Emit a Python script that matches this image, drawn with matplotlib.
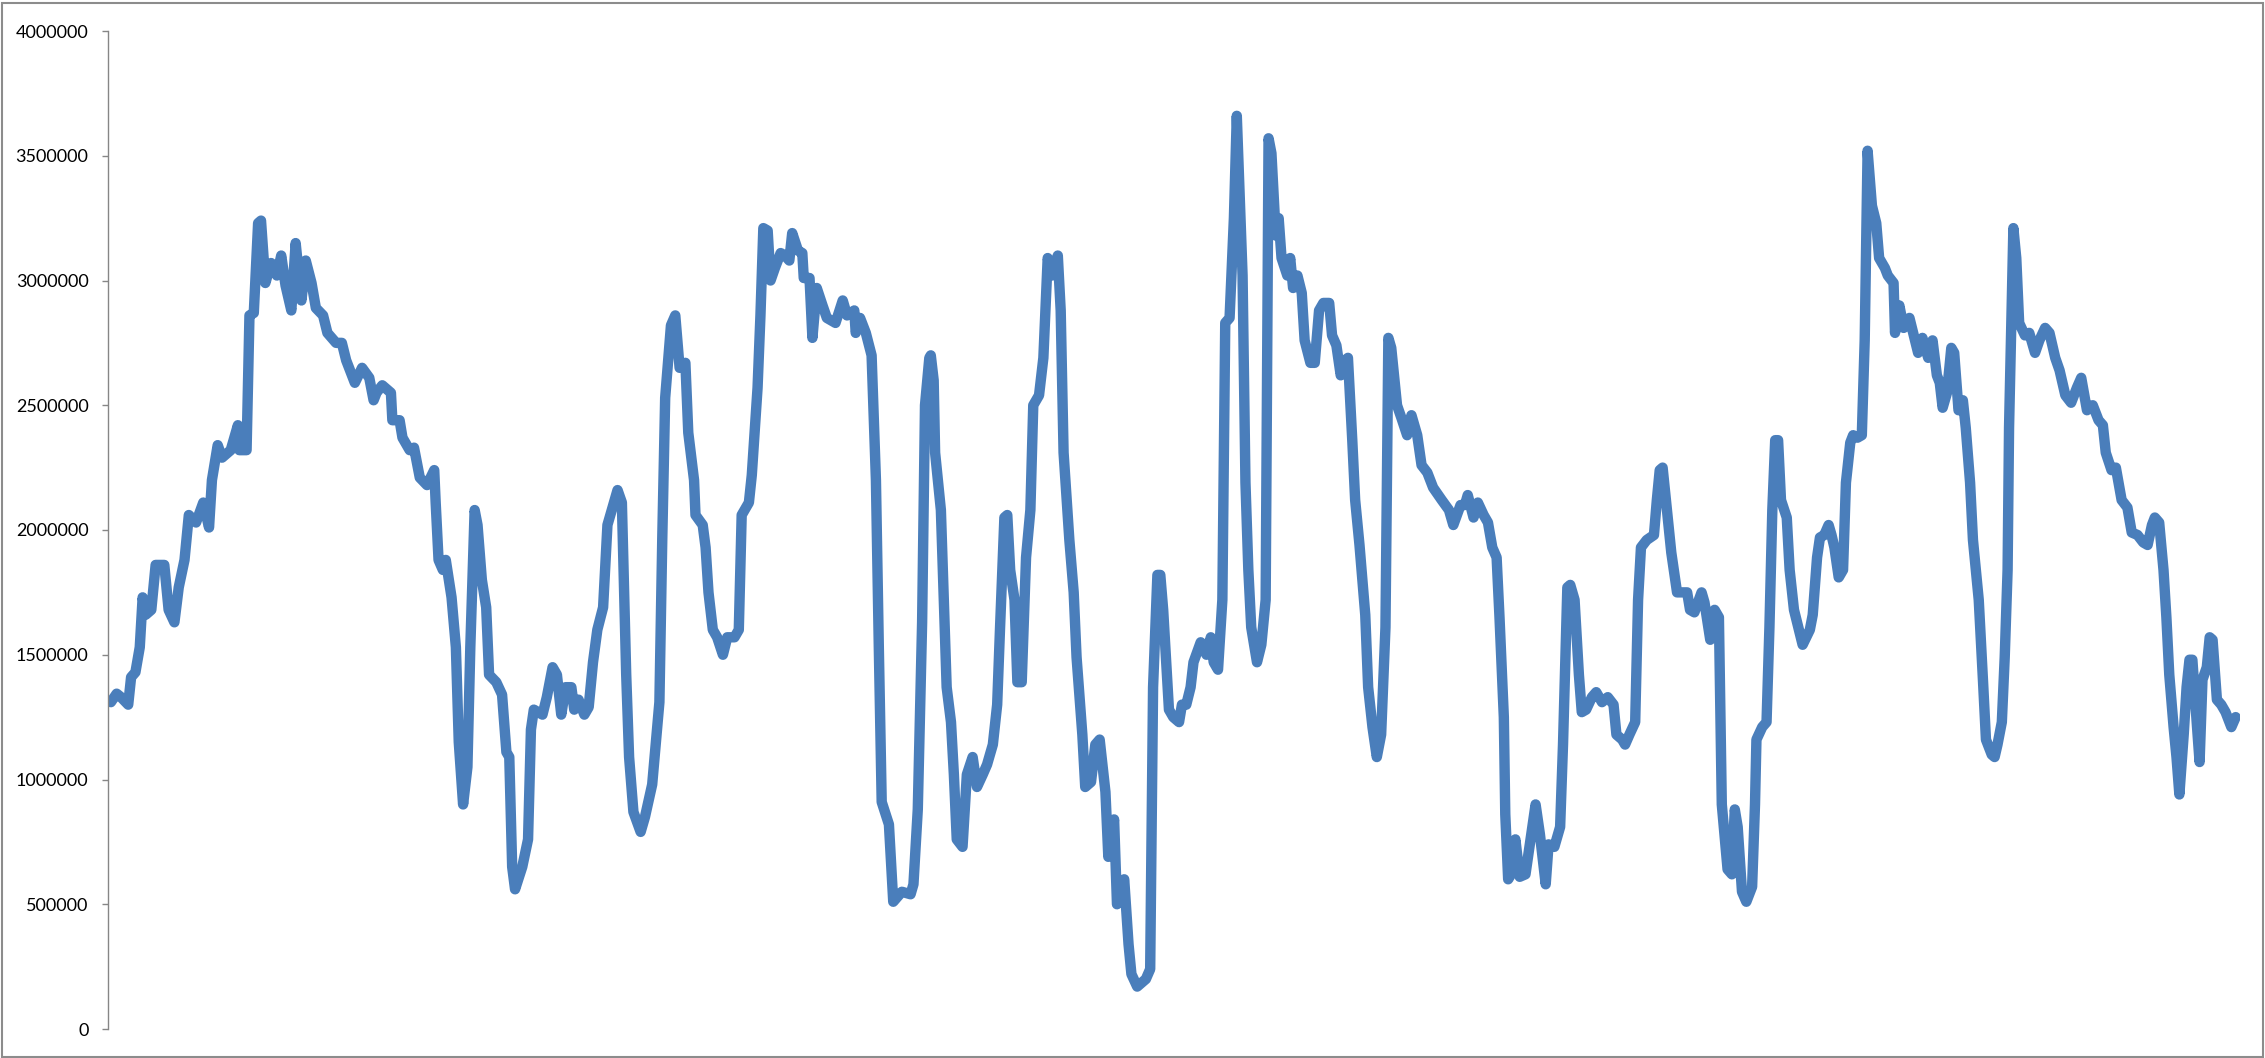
"""
Single long series (Excel-style line chart), values read off the reference picture.
"""
import matplotlib
matplotlib.use("Agg")
import matplotlib.pyplot as plt
from matplotlib.patches import Rectangle
from matplotlib.ticker import FuncFormatter, MultipleLocator
import numpy as np

# sample index along the (unlabelled) x axis
sample = [
    1, 5, 8, 13, 15, 18, 21, 23, 25, 29, 32, 38, 41, 45, 48, 52, 55, 60, 65, 69,
    71, 75, 78, 84, 89, 90, 95, 97, 100, 103, 105, 108, 112, 116, 119, 122, 126, 129, 133, 136,
    140, 143, 148, 151, 157, 161, 164, 170, 175, 180, 183,
    185, 189, 195, 196, 201, 203, 208, 211, 215, 220, 225, 226, 228, 231, 233, 237, 240, 242, 245, 248,
    250, 253, 255, 258, 261, 263, 268, 272, 275, 277, 279, 281, 286, 290, 292, 294, 300, 303, 307, 310,
    313, 316, 320, 322, 325, 329, 332, 335, 338, 342, 345, 348, 352, 355, 358, 360, 363, 368, 371,
    376, 381, 383, 385, 389, 392, 395, 399, 401, 405, 406, 411, 413, 415, 418, 421, 425, 428, 433, 436,
    438, 443, 445, 449, 451, 453, 456, 458, 461, 465, 468, 471, 473, 477, 480, 481, 485, 487, 490, 494,
    497, 503, 508, 511, 516, 517, 520, 524, 528, 531, 533, 535, 540, 543, 549, 555,
    557, 560, 563, 565, 568, 569, 571, 572, 576, 578, 580, 583, 585, 587, 591, 594, 598, 601, 605, 608,
    612, 615, 617, 620, 622, 624, 627, 629, 632, 635, 638, 640, 644, 647, 650, 653, 657, 659, 661, 665,
    668, 670, 674, 676, 680, 683, 686, 690, 692, 696, 698, 703, 706, 708, 712, 718, 721, 723, 726, 728,
    730, 734, 737, 741,
    743, 746, 749, 751, 756, 760, 763, 765, 768, 771, 773, 776, 779, 781, 785, 787, 789, 791, 795, 798,
    801, 803, 805, 808, 810, 812, 816, 818, 820, 823, 826, 828, 832, 835, 838, 841, 845, 847, 850, 853,
    856, 858, 861, 863, 866, 870, 872, 875, 878, 881, 884, 885, 886, 888, 892, 895, 899, 902, 906, 909,
    913, 917, 923, 928, 931,
    936, 939, 941, 945, 948, 952, 955, 958, 961, 963, 966, 967, 969, 971, 974, 977, 981, 984, 988, 991,
    995, 997, 1001, 1005, 1007, 1010, 1012, 1015, 1018, 1020, 1023, 1027, 1030, 1034, 1038, 1042, 1044, 1048, 1050, 1053,
    1057, 1059, 1061, 1065, 1070, 1072, 1074, 1076, 1079, 1082, 1086, 1089, 1093, 1095, 1098, 1103, 1105, 1109, 1112, 1115,
    1117,
    1121, 1124, 1126, 1128, 1131, 1134, 1138, 1140, 1141, 1145, 1148, 1150, 1152, 1154, 1156, 1158, 1162, 1164, 1167, 1170,
    1173, 1178, 1180, 1183, 1185, 1188, 1191, 1193, 1195, 1198, 1201, 1203, 1206, 1208, 1211, 1214, 1216, 1217, 1218, 1221,
    1224, 1226, 1230, 1232, 1236, 1237, 1240, 1243, 1247, 1250, 1253, 1256, 1260, 1263, 1266, 1268, 1270, 1273, 1276, 1278,
    1281, 1284, 1286, 1289, 1291, 1295, 1298, 1300, 1304,
    1306, 1308, 1311, 1313, 1315, 1316, 1319, 1321, 1323, 1327, 1330, 1334, 1337, 1341, 1344, 1348, 1351, 1355, 1359, 1363,
    1366, 1370, 1374, 1378, 1381, 1383, 1387, 1390, 1394, 1398, 1401, 1405, 1409, 1412, 1415, 1417, 1420, 1423, 1425, 1427,
    1430, 1432, 1434, 1437, 1439, 1441, 1443, 1446, 1448, 1450, 1453, 1455, 1457, 1460, 1463, 1466, 1470, 1473,
]

# series values, in thousands
value_k = [
    1310, 1344, 1330, 1300, 1410, 1430, 1530, 1730, 1660, 1680, 1860, 1860, 1680, 1630, 1770, 1880, 2060, 2030, 2110, 2010,
    2200, 2340, 2290, 2320, 2420, 2320, 2320, 2860, 2870, 3230, 3240, 2990, 3070, 3020, 3100, 2980, 2880, 3150, 2920, 3080,
    2990, 2890, 2860, 2790, 2750, 2750, 2680, 2590, 2650, 2610, 2520,
    2550, 2580, 2550, 2440, 2440, 2370, 2320, 2330, 2210, 2180, 2240, 2110, 1880, 1840, 1880, 1730, 1530, 1150, 900, 1050,
    1530, 2080, 2020, 1800, 1690, 1420, 1390, 1340, 1110, 1090, 650, 560, 650, 760, 1200, 1280, 1260, 1330, 1450, 1420,
    1260, 1370, 1370, 1280, 1320, 1260, 1290, 1470, 1600, 1690, 2020, 2080, 2160, 2110, 1420, 1090, 870, 790, 850,
    980, 1310, 1970, 2530, 2820, 2860, 2650, 2670, 2390, 2200, 2060, 2020, 1930, 1750, 1600, 1570, 1500, 1570, 1570, 1600,
    2060, 2110, 2220, 2570, 2860, 3210, 3200, 3000, 3050, 3110, 3100, 3080, 3190, 3120, 3110, 3010, 3010, 2770, 2970, 2900,
    2850, 2830, 2920, 2860, 2880, 2790, 2850, 2790, 2700, 2200, 1530, 910, 820, 510, 550, 540,
    580, 880, 1630, 2500, 2690, 2700, 2600, 2310, 2080, 1720, 1370, 1230, 1020, 760, 730, 1020, 1090, 970, 1020, 1060,
    1140, 1300, 1610, 2050, 2060, 1840, 1720, 1390, 1390, 1890, 2080, 2500, 2540, 2690, 3090, 3020, 3100, 2880, 2310, 1960,
    1750, 1490, 1180, 970, 990, 1140, 1160, 950, 690, 840, 500, 600, 340, 220, 170, 200, 240, 1370, 1820, 1820,
    1680, 1280, 1250, 1230,
    1300, 1300, 1370, 1470, 1550, 1500, 1570, 1470, 1440, 1720, 2830, 2850, 3250, 3660, 3020, 2190, 1840, 1610, 1470, 1540,
    1720, 3570, 3510, 3180, 3250, 3090, 3020, 3090, 2970, 3020, 2950, 2760, 2670, 2670, 2880, 2910, 2910, 2780, 2740, 2620,
    2680, 2690, 2360, 2120, 1940, 1660, 1370, 1210, 1090, 1180, 1610, 2190, 2770, 2730, 2500, 2450, 2380, 2460, 2380, 2260,
    2230, 2170, 2120, 2080, 2020,
    2100, 2100, 2140, 2050, 2110, 2060, 2030, 1930, 1890, 1650, 1250, 860, 600, 620, 760, 610, 620, 740, 900, 780,
    580, 740, 730, 810, 1140, 1770, 1780, 1720, 1420, 1270, 1280, 1330, 1350, 1310, 1330, 1300, 1180, 1160, 1140, 1180,
    1230, 1720, 1930, 1960, 1980, 2120, 2240, 2250, 2080, 1910, 1750, 1750, 1750, 1680, 1670, 1750, 1710, 1560, 1680, 1650,
    900,
    640, 620, 880, 810, 550, 510, 570, 900, 1160, 1210, 1230, 1610, 2080, 2360, 2360, 2120, 2050, 1840, 1680, 1610,
    1540, 1600, 1660, 1890, 1970, 1980, 2020, 1980, 1930, 1810, 1840, 2190, 2350, 2380, 2370, 2380, 2760, 3140, 3520, 3300,
    3230, 3090, 3050, 3020, 2990, 2790, 2900, 2810, 2850, 2780, 2710, 2770, 2690, 2760, 2620, 2590, 2490, 2550, 2730, 2710,
    2480, 2520, 2410, 2190, 1960, 1720, 1390, 1160, 1100,
    1090, 1140, 1230, 1490, 1840, 2410, 3210, 3090, 2830, 2780, 2790, 2710, 2760, 2810, 2790, 2690, 2640, 2540, 2510, 2570,
    2610, 2480, 2500, 2440, 2420, 2310, 2240, 2250, 2120, 2090, 1990, 1980, 1950, 1940, 2020, 2050, 2030, 1840, 1650, 1420,
    1210, 1090, 940, 1180, 1370, 1480, 1480, 1230, 1070, 1400, 1450, 1570, 1560, 1320, 1300, 1270, 1210, 1250,
]

LINE_COLOR = "#4A7EBB"
AXIS_COLOR = "#868686"
W, H = 2265, 1058


def main():
    x = np.asarray(sample)
    y = np.asarray(value_k, dtype=float) * 1000.0

    plt.rcParams["font.family"] = ["Lato", "DejaVu Sans"]
    fig = plt.figure(figsize=(W / 100, H / 100), dpi=100)
    ax = fig.add_axes([108 / W, 1 - 1029 / H, (2240 - 108) / W, (1029 - 31) / H])

    ax.plot(x, y, color=LINE_COLOR, lw=7.5, solid_joinstyle="round", solid_capstyle="round")

    ax.set_xlim(-1, 1476)
    ax.set_ylim(0, 4_000_000)
    ax.yaxis.set_major_locator(MultipleLocator(500_000))
    ax.yaxis.set_major_formatter(FuncFormatter(lambda v, _: f"{v:.0f}"))

    for side in ("top", "right", "bottom"):
        ax.spines[side].set_visible(False)
    ax.spines["left"].set_color(AXIS_COLOR)
    ax.spines["left"].set_linewidth(1.0)
    ax.set_xticks([])
    ax.tick_params(axis="y", direction="out", length=4, width=1.0, color=AXIS_COLOR,
                   labelsize=13, labelcolor="#000000", pad=10)

    # outer chart border
    fig.patches.append(Rectangle((1.5 / W, 1.5 / H), 1 - 4 / W, 1 - 4 / H, transform=fig.transFigure,
                                 fill=False, ec="#8c8c8c", lw=1.5))

    fig.savefig("out.png", dpi=100)
    plt.close(fig)


if __name__ == "__main__":
    main()
